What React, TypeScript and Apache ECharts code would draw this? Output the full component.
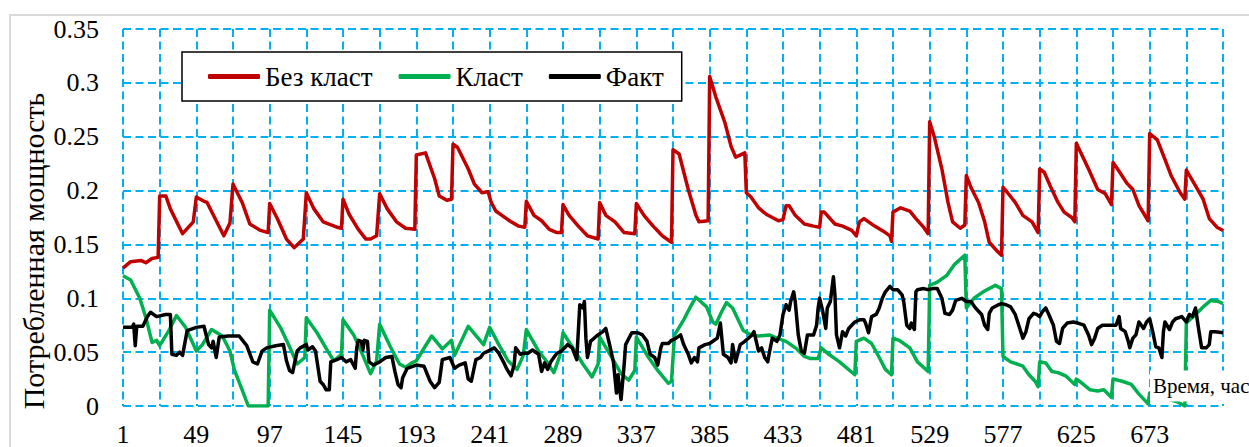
import { useEffect, useRef } from 'react';
import * as echarts from 'echarts';

// Hourly consumed power over 30 days, stored as [hour, value] vertices.
const bezKlast: [number, number][] = [
  [1, 0.128], [6, 0.134], [13, 0.135], [16, 0.133], [20, 0.137], [24, 0.138],
  [25, 0.195], [29, 0.195], [32, 0.183], [40, 0.16], [47, 0.171],
  [49, 0.194], [54, 0.19], [56, 0.189], [67, 0.158], [71, 0.17],
  [73, 0.206], [79, 0.189], [84, 0.169], [91, 0.163], [96, 0.161],
  [97, 0.188], [102, 0.174], [108, 0.155], [113, 0.147], [119, 0.155],
  [121, 0.198], [126, 0.183], [132, 0.171], [141, 0.166], [144, 0.165],
  [145, 0.192], [149, 0.178], [155, 0.164], [160, 0.155], [163, 0.155], [167, 0.158],
  [169, 0.197], [174, 0.183], [180, 0.171], [186, 0.165], [192, 0.164],
  [193, 0.233], [199, 0.235], [205, 0.211], [208, 0.195], [213, 0.191], [216, 0.192],
  [217, 0.243], [220, 0.24], [227, 0.22], [231, 0.206], [236, 0.198], [240, 0.199],
  [242, 0.189], [245, 0.181], [249, 0.177], [255, 0.171], [260, 0.167], [264, 0.166],
  [265, 0.19], [270, 0.177], [275, 0.172], [280, 0.164], [285, 0.161], [288, 0.161],
  [289, 0.187], [293, 0.177], [299, 0.167], [305, 0.158], [312, 0.155],
  [313, 0.189], [317, 0.177], [323, 0.171], [329, 0.161], [336, 0.16],
  [337, 0.188], [342, 0.177], [348, 0.167], [354, 0.158], [360, 0.152],
  [361, 0.238], [365, 0.234], [371, 0.201], [376, 0.177], [378, 0.171], [384, 0.172],
  [385, 0.306], [389, 0.287], [395, 0.263], [399, 0.241], [402, 0.231], [408, 0.235],
  [409, 0.198], [412, 0.194], [417, 0.184], [422, 0.178], [430, 0.172], [433, 0.173],
  [435, 0.186], [437, 0.186], [441, 0.177], [447, 0.169], [453, 0.167], [457, 0.166],
  [458, 0.18], [460, 0.18], [467, 0.169], [472, 0.167], [478, 0.163], [481, 0.158],
  [483, 0.171], [486, 0.174], [493, 0.167], [500, 0.161], [503, 0.158], [504, 0.153],
  [505, 0.18], [510, 0.184], [516, 0.181], [520, 0.174], [525, 0.166], [528, 0.16],
  [529, 0.264], [532, 0.25], [537, 0.22], [541, 0.189], [544, 0.171], [549, 0.165], [552, 0.168],
  [553, 0.214], [556, 0.203], [561, 0.189], [565, 0.171], [568, 0.152], [573, 0.144], [576, 0.14],
  [577, 0.203], [580, 0.198], [585, 0.189], [590, 0.177], [596, 0.171], [600, 0.161],
  [601, 0.22], [604, 0.217], [608, 0.204], [613, 0.189], [617, 0.18], [622, 0.175], [624, 0.171],
  [625, 0.244], [627, 0.238], [633, 0.22], [639, 0.201], [644, 0.197], [648, 0.187],
  [649, 0.226], [652, 0.22], [658, 0.207], [662, 0.201], [666, 0.186], [672, 0.172],
  [673, 0.253], [678, 0.247], [683, 0.229], [687, 0.214], [693, 0.198], [696, 0.192],
  [697, 0.219], [702, 0.207], [708, 0.192], [712, 0.174], [717, 0.166], [721, 0.163],
];

const klast: [number, number][] = [
  [1, 0.121], [6, 0.117], [12, 0.1], [16, 0.082], [20, 0.059], [23, 0.061], [25, 0.056],
  [31, 0.07], [36, 0.084], [42, 0.073], [49, 0.051], [53, 0.057], [59, 0.071], [66, 0.065],
  [71, 0.051], [74, 0.033], [79, 0.015], [83, 0], [96, 0],
  [97, 0.089], [104, 0.073], [110, 0.055], [115, 0.039], [120, 0.045],
  [121, 0.082], [128, 0.068], [135, 0.051], [139, 0.042], [144, 0.048],
  [145, 0.08], [152, 0.066], [158, 0.047], [163, 0.03], [167, 0.042],
  [169, 0.076], [176, 0.055], [182, 0.039], [186, 0.036], [190, 0.04], [193, 0.042],
  [203, 0.065], [210, 0.053], [216, 0.061], [218, 0.047], [227, 0.074], [237, 0.057],
  [241, 0.073], [247, 0.057], [253, 0.042], [259, 0.034], [263, 0.047],
  [265, 0.071], [273, 0.051], [278, 0.042], [283, 0.031], [287, 0.047],
  [289, 0.068], [296, 0.053], [302, 0.039], [308, 0.027], [312, 0.039],
  [313, 0.064], [321, 0.045], [327, 0.03], [332, 0.024], [336, 0.033],
  [337, 0.064], [345, 0.045], [351, 0.033], [358, 0.021], [360, 0.023],
  [362, 0.066], [368, 0.08], [372, 0.091], [376, 0.101], [383, 0.092], [387, 0.078],
  [389, 0.076], [393, 0.088], [396, 0.096], [400, 0.091], [407, 0.07], [412, 0.066],
  [417, 0.065], [424, 0.066], [429, 0.063], [435, 0.06], [442, 0.053], [447, 0.046],
  [451, 0.044], [456, 0.044], [458, 0.054], [463, 0.048], [470, 0.041], [480, 0.029],
  [481, 0.06], [486, 0.063], [491, 0.058], [496, 0.045], [500, 0.034], [504, 0.029],
  [505, 0.063], [509, 0.061], [516, 0.054], [521, 0.041], [528, 0.032],
  [529, 0.112], [534, 0.115], [540, 0.121], [545, 0.131], [552, 0.14],
  [553, 0.091], [558, 0.1], [564, 0.106], [572, 0.112], [576, 0.109],
  [577, 0.046], [582, 0.041], [590, 0.037], [594, 0.029], [598, 0.023], [600, 0.018],
  [601, 0.041], [605, 0.04], [609, 0.032], [613, 0.031], [618, 0.028], [624, 0.02],
  [625, 0.025], [628, 0.022], [634, 0.015], [639, 0.014], [643, 0.015], [648, 0.008],
  [649, 0.025], [655, 0.023], [661, 0.02], [666, 0.011], [672, 0.002],
  [673, 0.012], [680, 0.008], [686, 0.006], [691, 0.004], [696, 0],
  [697, 0.077], [703, 0.085], [708, 0.092], [713, 0.098], [718, 0.097], [721, 0.095],
];

const fakt: [number, number][] = [
  [1, 0.073], [7, 0.073], [8, 0.076], [9, 0.056], [10, 0.074], [14, 0.074], [17, 0.083],
  [19, 0.087], [23, 0.083], [29, 0.085], [32, 0.085], [33, 0.048], [36, 0.047], [38, 0.05],
  [40, 0.047], [43, 0.07], [49, 0.073], [54, 0.074], [57, 0.057], [59, 0.054], [60, 0.06],
  [62, 0.045], [64, 0.064], [70, 0.065], [77, 0.065], [82, 0.056], [86, 0.041], [89, 0.039],
  [92, 0.051], [95, 0.054], [101, 0.056], [106, 0.057], [108, 0.042], [110, 0.033],
  [112, 0.031], [115, 0.051], [117, 0.054], [121, 0.057], [122, 0.052], [125, 0.055],
  [127, 0.051], [130, 0.023], [132, 0.02], [134, 0.015], [136, 0.015], [137, 0.041],
  [141, 0.043], [144, 0.045], [147, 0.041], [150, 0.043], [153, 0.035], [154, 0.054],
  [155, 0.061], [157, 0.06], [158, 0.052], [159, 0.061], [161, 0.06], [162, 0.041],
  [165, 0.038], [169, 0.041], [173, 0.045], [177, 0.046], [179, 0.032], [181, 0.02],
  [183, 0.017], [184, 0.026], [187, 0.035], [193, 0.038], [198, 0.037], [202, 0.023],
  [205, 0.017], [208, 0.022], [210, 0.043], [215, 0.045], [218, 0.035], [221, 0.038],
  [225, 0.04], [227, 0.025], [229, 0.023], [232, 0.043], [235, 0.045], [237, 0.049],
  [240, 0.051], [244, 0.054], [247, 0.049], [250, 0.041], [252, 0.035], [255, 0.028],
  [257, 0.038], [258, 0.054], [261, 0.048], [263, 0.049], [266, 0.049], [269, 0.052],
  [273, 0.048], [275, 0.032], [277, 0.04], [279, 0.034], [281, 0.041], [285, 0.049],
  [288, 0.051], [292, 0.057], [295, 0.054], [298, 0.043], [300, 0.094], [302, 0.091],
  [303, 0.097], [304, 0.063], [305, 0.045], [307, 0.06], [311, 0.065], [315, 0.069],
  [317, 0.072], [319, 0.06], [322, 0.041], [324, 0.012], [325, 0.029], [326, 0.017],
  [327, 0.006], [329, 0.038], [330, 0.057], [334, 0.068], [338, 0.068], [341, 0.066],
  [344, 0.06], [346, 0.048], [349, 0.045], [351, 0.038], [353, 0.054], [354, 0.058],
  [358, 0.058], [360, 0.061], [363, 0.063], [366, 0.066], [368, 0.057], [371, 0.048],
  [373, 0.04], [375, 0.045], [377, 0.041], [378, 0.054], [382, 0.057], [385, 0.058],
  [388, 0.061], [390, 0.063], [392, 0.077], [394, 0.048], [397, 0.045], [399, 0.04],
  [400, 0.057], [402, 0.041], [405, 0.057], [408, 0.06], [412, 0.065], [414, 0.069],
  [417, 0.051], [419, 0.054], [421, 0.045], [423, 0.041], [424, 0.049], [426, 0.063],
  [429, 0.06], [431, 0.066], [433, 0.085], [435, 0.094], [437, 0.089], [438, 0.097],
  [440, 0.106], [441, 0.097], [443, 0.066], [445, 0.051], [447, 0.049], [449, 0.066],
  [453, 0.066], [455, 0.075], [456, 0.091], [457, 0.1], [459, 0.088], [461, 0.072],
  [462, 0.091], [464, 0.097], [466, 0.12], [467, 0.103], [468, 0.066], [470, 0.054],
  [472, 0.069], [474, 0.065], [476, 0.072], [480, 0.078], [483, 0.08], [486, 0.08],
  [487, 0.077], [489, 0.068], [491, 0.083], [494, 0.085], [496, 0.091], [498, 0.1],
  [500, 0.106], [503, 0.111], [505, 0.108], [508, 0.108], [511, 0.103], [512, 0.097],
  [514, 0.075], [516, 0.072], [517, 0.077], [519, 0.071], [520, 0.106], [521, 0.108],
  [525, 0.109], [528, 0.108], [531, 0.109], [534, 0.109], [537, 0.1], [539, 0.086],
  [542, 0.085], [544, 0.089], [546, 0.098], [550, 0.1], [553, 0.097], [556, 0.097],
  [559, 0.091], [563, 0.085], [565, 0.075], [567, 0.071], [568, 0.086], [570, 0.091],
  [574, 0.094], [576, 0.095], [579, 0.094], [582, 0.092], [585, 0.085], [588, 0.072],
  [590, 0.063], [592, 0.069], [594, 0.081], [597, 0.086], [599, 0.085], [601, 0.083],
  [603, 0.088], [605, 0.091], [607, 0.085], [610, 0.075], [612, 0.06], [614, 0.058],
  [616, 0.072], [619, 0.077], [623, 0.078], [626, 0.077], [630, 0.075], [633, 0.066],
  [635, 0.057], [637, 0.063], [639, 0.072], [642, 0.075], [646, 0.075], [651, 0.075],
  [653, 0.083], [654, 0.072], [657, 0.069], [659, 0.06], [660, 0.054], [662, 0.063],
  [664, 0.066], [666, 0.078], [669, 0.072], [671, 0.078], [673, 0.081], [675, 0.069],
  [677, 0.055], [679, 0.054], [681, 0.045], [682, 0.069], [683, 0.078], [686, 0.071],
  [688, 0.078], [690, 0.081], [694, 0.083], [697, 0.078], [699, 0.085], [701, 0.083],
  [703, 0.091], [705, 0.072], [707, 0.054], [710, 0.054], [712, 0.057], [713, 0.069],
  [716, 0.069], [721, 0.068],
];

const seriesNames = ['Без класт', 'Класт', 'Факт'];
const seriesColors = ['#C00000', '#00B050', '#000000'];
const yAxisTitle = 'Потребленная мощность';
const xAxisTitle = 'Время, час';

const FIRST_HOUR = 1;
const LAST_HOUR = 721;
const GRID_STEP_HOURS = 24;
const LABEL_STEP_HOURS = 48;

const SERIF = 'Liberation Serif';
const GRID_BLUE = '#00B0F0';

// Every chart text is set in the serif face.
const textCss = `.power-chart svg text { font-family: 'Liberation Serif', serif !important; }`;

// Hour numbers start at 1; the axis runs from 0 so that its ticks fall on day boundaries.
const toAxis = (pts: [number, number][]) => pts.map(([h, v]) => [h - FIRST_HOUR, v]);

export default function App() {
  const ref = useRef<HTMLDivElement>(null);

  useEffect(() => {
    if (!ref.current) return;
    document.body.style.margin = '0';
    const chart = echarts.init(ref.current, undefined, { renderer: 'svg' });
    const dashed = { color: GRID_BLUE, width: 2, type: [8, 4.5] as number[] };

    chart.setOption({
      animation: false,
      backgroundColor: '#ffffff',
      grid: { left: 123, right: 26, top: 29, bottom: 38 },
      legend: {
        left: 182,
        top: 52,
        padding: [11, 18, 11, 26],
        itemGap: 26,
        itemWidth: 52,
        itemHeight: 5,
        icon: 'roundRect',
        borderColor: '#000',
        borderWidth: 1.5,
        backgroundColor: '#fff',
        textStyle: { fontFamily: SERIF, fontSize: 27, color: '#000' },
        data: seriesNames,
      },
      xAxis: {
        type: 'value',
        min: 0,
        max: LAST_HOUR - FIRST_HOUR,
        interval: GRID_STEP_HOURS,
        axisLine: { show: false },
        axisTick: { show: false },
        axisLabel: {
          margin: 15,
          fontSize: 26,
          fontFamily: SERIF,
          color: '#000',
          formatter: (v: number) =>
            v % LABEL_STEP_HOURS === 0 && v < LAST_HOUR - FIRST_HOUR ? String(v + FIRST_HOUR) : '',
        },
        splitLine: { show: true, lineStyle: dashed },
      },
      yAxis: {
        type: 'value',
        min: 0,
        max: 0.35,
        interval: 0.05,
        axisLine: { show: false },
        axisTick: { show: false },
        axisLabel: { margin: 24, fontSize: 26, fontFamily: SERIF, color: '#000' },
        splitLine: { show: true, lineStyle: dashed },
      },
      series: [bezKlast, klast, fakt].map((pts, i) => ({
        name: seriesNames[i],
        type: 'line',
        data: toAxis(pts),
        showSymbol: false,
        symbol: 'none',
        lineStyle: { width: 3.5, color: seriesColors[i], join: 'round' },
        itemStyle: { color: seriesColors[i] },
        z: 2 + i,
      })),
      graphic: [
        {
          type: 'rect',
          silent: true,
          z: -10,
          shape: { x: 10, y: 15, width: 1300, height: 500 },
          style: { fill: 'none', stroke: '#d9d9d9', lineWidth: 2 },
        },
        {
          type: 'text',
          z: 100,
          x: 33,
          y: 251,
          rotation: Math.PI / 2,
          style: {
            text: yAxisTitle,
            fontFamily: SERIF,
            fontSize: 30,
            fill: '#000',
            align: 'center',
            verticalAlign: 'middle',
          },
        },
        {
          type: 'text',
          z: 100,
          x: 1150,
          y: 386,
          style: {
            text: xAxisTitle,
            fontFamily: SERIF,
            fontSize: 21,
            fill: '#000',
            align: 'left',
            verticalAlign: 'middle',
            backgroundColor: '#fff',
            padding: [5, 8, 5, 3],
          },
        },
      ],
    });

    return () => chart.dispose();
  }, []);

  return (
    <>
      <style>{textCss}</style>
      <div className="power-chart" ref={ref} style={{ width: 1249, height: 447 }} />
    </>
  );
}
